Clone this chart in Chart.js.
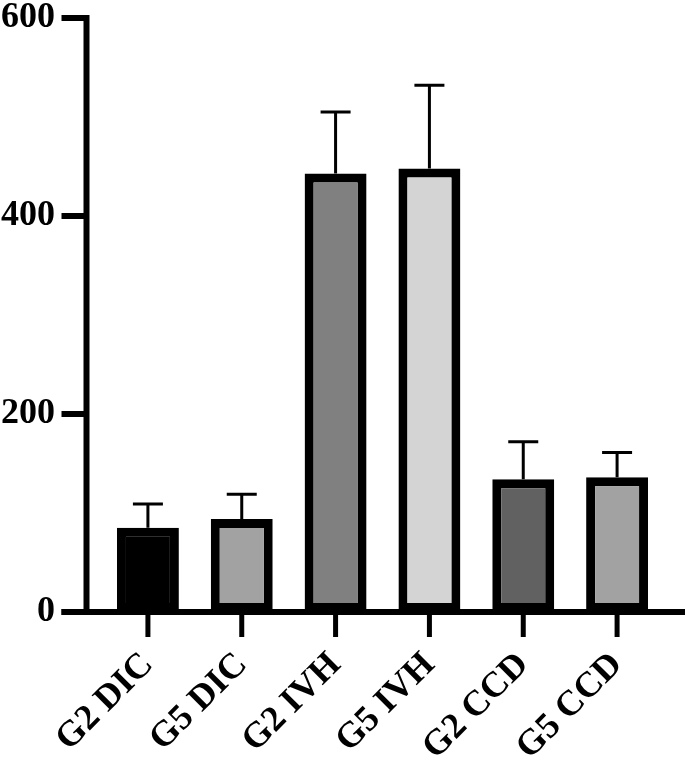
<!DOCTYPE html>
<html>
<head>
<meta charset="utf-8">
<script src="https://cdn.jsdelivr.net/npm/chart.js@4.4.1/dist/chart.umd.min.js"></script>
<style>
  html,body{margin:0;padding:0;background:#fff;}
  #wrap{width:685px;height:777px;position:relative;}
</style>
</head>
<body>
<div id="wrap"><canvas id="c"></canvas></div>
<script>
// values
const groups = ['G2 DIC','G5 DIC','G2 IVH','G5 IVH','G2 CCD','G5 CCD'];
const means  = [85, 94, 443, 448, 134, 136];
const errUp  = [24, 25, 62, 84, 38, 25];
const fills  = ['#000000','#a2a2a2','#808080','#d4d4d4','#616161','#a2a2a2'];
const yTicks = [0, 200, 400, 600];

const FONT = '"Liberation Serif","Times New Roman",serif';

// prism-style detached axes + one-sided error bars
const axesAndErrors = {
  id:'axesAndErrors',
  afterDatasetsDraw(chart){
    const {ctx, scales:{x, y}} = chart;
    const ax = chart.chartArea.left - 14.5;
    const y0 = y.getPixelForValue(0);
    ctx.save();
    ctx.strokeStyle = '#000';
    ctx.lineCap = 'butt';

    // error bars
    ctx.lineWidth = 3;
    means.forEach((m,i)=>{
      const cx = x.getPixelForValue(i);
      const top = y.getPixelForValue(m + errUp[i]);
      const base = y.getPixelForValue(m);
      ctx.beginPath();
      ctx.moveTo(cx, base); ctx.lineTo(cx, top);
      ctx.moveTo(cx-15, top); ctx.lineTo(cx+15, top);
      ctx.stroke();
    });

    // y axis
    ctx.lineWidth = 6;
    const yTop = y.getPixelForValue(600);
    ctx.beginPath();
    ctx.moveTo(ax, yTop-3); ctx.lineTo(ax, y0+3);
    ctx.stroke();
    yTicks.forEach(v=>{
      const py = y.getPixelForValue(v);
      ctx.beginPath(); ctx.moveTo(ax-25, py); ctx.lineTo(ax, py); ctx.stroke();
    });
    // x axis
    ctx.beginPath();
    ctx.moveTo(ax-25, y0); ctx.lineTo(chart.width, y0);
    ctx.stroke();
    ctx.lineWidth = 5;
    groups.forEach((g,i)=>{
      const cx = x.getPixelForValue(i);
      ctx.beginPath(); ctx.moveTo(cx, y0); ctx.lineTo(cx, y0+25); ctx.stroke();
    });
    ctx.restore();
  }
};

new Chart(document.getElementById('c'), {
  type:'bar',
  data:{
    labels: groups,
    datasets:[{
      data: means,
      backgroundColor: fills,
      borderColor:'#000',
      borderWidth:9,
      borderSkipped:false,
      barPercentage:0.66,
      categoryPercentage:1
    }]
  },
  options:{
    responsive:true, maintainAspectRatio:false, animation:false,
    layout:{ padding:{ top:18, right:21, left:0, bottom:0 } },
    plugins:{ legend:{display:false}, tooltip:{enabled:false} },
    scales:{
      x:{
        grid:{display:false, drawTicks:false}, border:{display:false},
        ticks:{ color:'#000', font:{family:FONT, size:36, weight:'bold'},
          maxRotation:45, minRotation:45, padding:32 },
        afterFit(s){ s.height = 165; s.paddingLeft = 0; s.paddingRight = 0; }
      },
      y:{
        min:0, max:600,
        grid:{display:false, drawTicks:false}, border:{display:false},
        ticks:{ stepSize:200, color:'#000', font:{family:FONT, size:36, weight:'bold'}, padding:46 },
        afterFit(s){ s.width = 101; s.paddingTop = 0; s.paddingBottom = 0; }
      }
    }
  },
  plugins:[axesAndErrors]
});
</script>
</body>
</html>
